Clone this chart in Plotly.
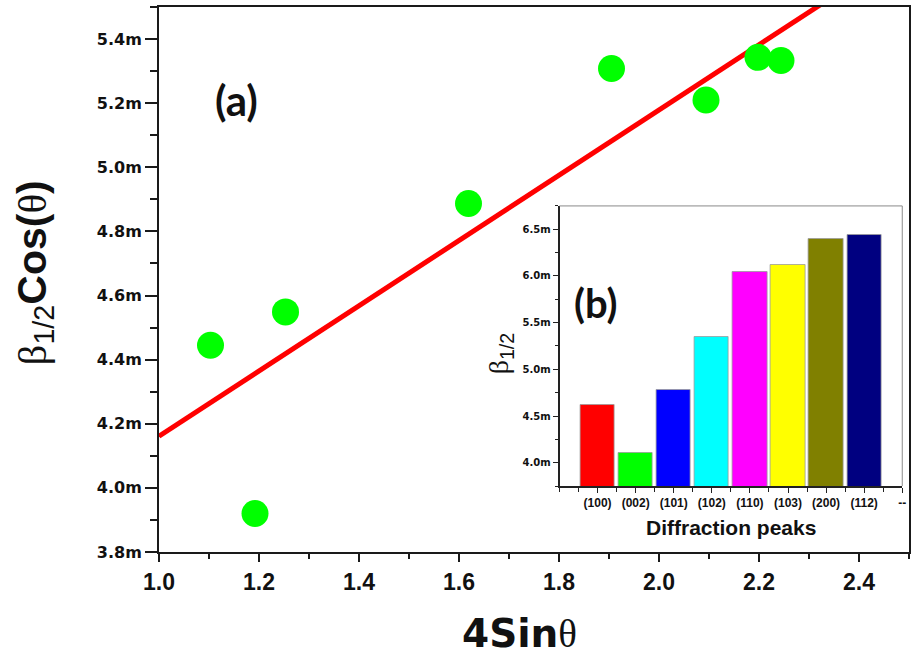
import numpy as np
import plotly.graph_objects as go

# Williamson-Hall data: 4 sin(theta) vs beta_1/2 cos(theta) (x10^-3)
four_sin_theta = [1.103, 1.192, 1.253, 1.619, 1.905, 2.094, 2.198, 2.244]
beta_cos_theta = [4.445, 3.920, 4.549, 4.887, 5.308, 5.210, 5.343, 5.333]

# Inset: FWHM per diffraction peak (x10^-3)
peaks = ["(100)", "(002)", "(101)", "(102)", "(110)", "(103)", "(200)", "(112)"]
beta_half = [4.624, 4.104, 4.784, 5.346, 6.041, 6.120, 6.397, 6.440]
bar_colors = ["#FF0000", "#00FF00", "#0000FF", "#00FFFF",
              "#FF00FF", "#FFFF00", "#808000", "#000080"]

main_yticks = [3.8, 4.0, 4.2, 4.4, 4.6, 4.8, 5.0, 5.2, 5.4]
main_xticks = [1.0, 1.2, 1.4, 1.6, 1.8, 2.0, 2.2, 2.4]
inset_yticks = [4.0, 4.5, 5.0, 5.5, 6.0, 6.5]

# least-squares linear fit
slope, intercept = np.polyfit(four_sin_theta, beta_cos_theta, 1)
fit_x = [1.0, 2.5]
fit_y = [intercept + slope * v for v in fit_x]

AXC = "#1a1a1a"
SANS = "Liberation Sans"
WIDE = "DejaVu Sans"
SERIF = "Liberation Serif"

fig = go.Figure()

fig.add_trace(go.Scatter(
    x=fit_x, y=fit_y, mode="lines",
    line=dict(color="#FF0000", width=5),
    xaxis="x", yaxis="y", showlegend=False, hoverinfo="skip"))

fig.add_trace(go.Scatter(
    x=four_sin_theta, y=beta_cos_theta, mode="markers",
    marker=dict(color="#00FF00", size=27, line=dict(width=0)),
    xaxis="x", yaxis="y", showlegend=False))

inset_x = list(range(1, len(peaks) + 1))
fig.add_trace(go.Bar(
    x=inset_x, y=beta_half, width=0.9,
    marker=dict(color=bar_colors, line=dict(color="#9a9a9a", width=0.8)),
    xaxis="x2", yaxis="y2", showlegend=False))

fig.update_layout(
    width=916, height=657,
    margin=dict(l=159, r=3, t=7, b=105),
    paper_bgcolor="white", plot_bgcolor="white",
    bargap=0,
    xaxis=dict(
        domain=[0, 1], range=[1.0, 2.5],
        tickmode="array", tickvals=main_xticks,
        ticktext=[f"{v:.1f}" for v in main_xticks],
        showgrid=False, zeroline=False,
        showline=True, mirror=True, linecolor=AXC, linewidth=2,
        ticks="outside", ticklen=8, tickwidth=2, tickcolor=AXC,
        minor=dict(tickmode="linear", tick0=1.1, dtick=0.2, ticks="outside",
                   ticklen=5, tickwidth=2, tickcolor=AXC, showgrid=False),
        tickfont=dict(family=SANS, size=23, color="#111", weight="bold"),
    ),
    yaxis=dict(
        domain=[0, 1], range=[3.8, 5.5],
        tickmode="array", tickvals=main_yticks,
        ticktext=[f"{v:.1f}m" for v in main_yticks],
        showgrid=False, zeroline=False,
        showline=True, mirror=True, linecolor=AXC, linewidth=2,
        ticks="outside", ticklen=12, tickwidth=2, tickcolor=AXC,
        minor=dict(tickmode="linear", tick0=3.9, dtick=0.2, ticks="outside",
                   ticklen=7, tickwidth=2, tickcolor=AXC, showgrid=False),
        tickfont=dict(family=WIDE, size=16, color="#111", weight="bold"),
    ),
    xaxis2=dict(
        domain=[0.534, 0.991], range=[0, 9], anchor="y2",
        tickmode="array", tickvals=list(range(1, 10)),
        ticktext=peaks + ["--"],
        showgrid=False, zeroline=False,
        showline=True, linecolor="#222", linewidth=1.5,
        ticks="outside", ticklen=5, tickwidth=1.2, tickcolor="#222",
        minor=dict(tickmode="array",
                   tickvals=[0] + [i + 0.5 for i in range(9)],
                   ticks="outside", ticklen=4, tickwidth=1, tickcolor="#222",
                   showgrid=False),
        tickfont=dict(family=SANS, size=12, color="#111", weight="bold"),
    ),
    yaxis2=dict(
        domain=[0.121, 0.635], range=[3.75, 6.75], anchor="x2",
        tickmode="array", tickvals=inset_yticks,
        ticktext=[f"{v:.1f}m" for v in inset_yticks],
        showgrid=False, zeroline=False,
        showline=True, linecolor="#222", linewidth=1.5,
        ticks="outside", ticklen=5, tickwidth=1.2, tickcolor="#222",
        minor=dict(tickmode="linear", tick0=3.75, dtick=0.5, ticks="outside",
                   ticklen=3, tickwidth=1, tickcolor="#222", showgrid=False),
        tickfont=dict(family=WIDE, size=10, color="#111", weight="bold"),
    ),
    shapes=[
        dict(type="line", xref="x2 domain", yref="y2 domain",
             x0=0, x1=1, y0=1, y1=1, line=dict(color="#8a8a8a", width=1)),
        dict(type="line", xref="x2 domain", yref="y2 domain",
             x0=1, x1=1, y0=0, y1=1, line=dict(color="#8a8a8a", width=1)),
    ],
    annotations=[
        # axis titles
        dict(xref="paper", yref="paper", x=0.480, y=-0.150,
             showarrow=False, xanchor="center", yanchor="middle",
             text=f"<span style='font-family:{WIDE}'><b>4Sin</b></span>"
                  f"<span style='font-family:{SERIF}'>θ</span>",
             font=dict(family=WIDE, size=39, color="#111")),
        dict(xref="paper", yref="paper", x=-0.166, y=0.512,
             showarrow=False, xanchor="center", yanchor="middle",
             textangle=-90,
             text=f"<span style='font-family:{SERIF}'>β</span>"
                  f"<sub><span style='font-family:{SANS}'>1/2</span></sub>"
                  f"<b>Cos(</b><span style='font-family:{SERIF}'>θ</span><b>)</b>",
             font=dict(family=SANS, size=41, color="#111")),
        dict(xref="paper", yref="paper", x=0.455, y=0.365,
             showarrow=False, xanchor="center", yanchor="middle",
             textangle=-90,
             text=f"<span style='font-family:{SERIF}'>β</span>"
                  f"<sub><span style='font-family:{SANS}'>1/2</span></sub>",
             font=dict(family=SERIF, size=28, color="#111")),
        dict(xref="paper", yref="paper", x=0.762, y=0.045,
             showarrow=False, xanchor="center", yanchor="middle",
             text="<b>Diffraction peaks</b>",
             font=dict(family=SANS, size=21, color="#111")),
        # panel labels
        dict(xref="paper", yref="paper", x=0.103, y=0.829,
             showarrow=False, xanchor="center", yanchor="middle",
             text="<b>(a)</b>",
             font=dict(family="Lato", size=42, color="#111", weight=900)),
        dict(xref="paper", yref="paper", x=0.582, y=0.457,
             showarrow=False, xanchor="center", yanchor="middle",
             text="<b>(b)</b>",
             font=dict(family="Lato", size=40, color="#111", weight=900)),
    ],
)

fig.write_html("out.html")
